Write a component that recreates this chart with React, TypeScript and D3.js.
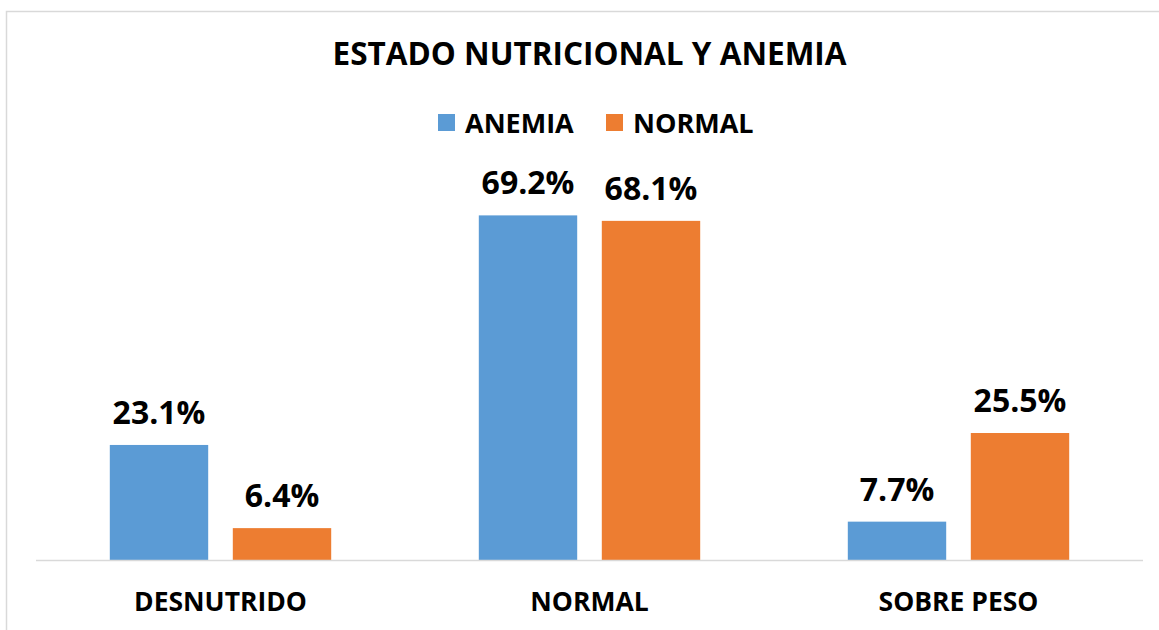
import React, { useRef, useEffect } from 'react';
import * as d3 from 'd3';

const categories = ['DESNUTRIDO', 'NORMAL', 'SOBRE PESO'];
const seriesNames = ['ANEMIA', 'NORMAL'];
const anemia = [23.1, 69.2, 7.7];
const normal = [6.4, 68.1, 25.5];
const colors = ['#5b9bd5', '#ed7d31'];

const W = 1159;
const H = 630;
const FONT = '"Open Sans", sans-serif';

function App(): React.ReactElement {
  const ref = useRef<SVGSVGElement | null>(null);

  useEffect(() => {
    if (!ref.current) return;
    const svg = d3.select(ref.current);
    svg.selectAll('*').remove();

    const left = 36;
    const right = 1143;
    const baseY = 560;

    // chart frame (right and bottom edges fall outside the picture)
    svg.append('rect')
      .attr('x', 6.5).attr('y', 11.5)
      .attr('width', 1180).attr('height', 640)
      .attr('fill', '#fff')
      .attr('stroke', '#d9d9d9')
      .attr('stroke-width', 1.5);

    const x0 = d3.scaleBand<string>().domain(categories).range([left, right]);
    const bw = x0.bandwidth();
    const x1 = d3.scaleBand<string>()
      .domain(seriesNames)
      .range([bw * 0.2, bw * 0.8])
      .paddingInner(0.2);
    const y = d3.scaleLinear().domain([0, 80]).range([baseY, baseY - 80 * 4.98]);

    const rows = categories.map((c, i) => ({ cat: c, vals: [anemia[i], normal[i]] }));

    const groups = svg.append('g')
      .selectAll('g')
      .data(rows)
      .join('g')
      .attr('transform', d => `translate(${x0(d.cat)},0)`);

    groups.selectAll('rect')
      .data(d => d.vals.map((v, j) => ({ key: seriesNames[j], v, j })))
      .join('rect')
      .attr('x', d => x1(d.key)!)
      .attr('y', d => y(d.v))
      .attr('width', x1.bandwidth())
      .attr('height', d => baseY - y(d.v))
      .attr('fill', d => colors[d.j]);

    groups.selectAll('text')
      .data(d => d.vals.map((v, j) => ({ key: seriesNames[j], v, j })))
      .join('text')
      .attr('x', d => x1(d.key)! + x1.bandwidth() / 2)
      .attr('y', d => y(d.v) - 21)
      .attr('text-anchor', 'middle')
      .attr('font-family', FONT)
      .attr('font-weight', 700)
      .attr('font-size', 32)
      .attr('fill', '#000')
      .text(d => `${d.v.toFixed(1)}%`);

    // baseline
    svg.append('line')
      .attr('x1', left).attr('x2', right)
      .attr('y1', baseY + 0.5).attr('y2', baseY + 0.5)
      .attr('stroke', '#d9d9d9')
      .attr('stroke-width', 1.5);

    // category labels
    svg.append('g')
      .selectAll('text')
      .data(categories)
      .join('text')
      .attr('x', d => x0(d)! + bw / 2)
      .attr('y', 611)
      .attr('text-anchor', 'middle')
      .attr('font-family', FONT)
      .attr('font-weight', 700)
      .attr('font-size', 26.5)
      .attr('fill', '#000')
      .text(d => d);

    // title
    svg.append('text')
      .attr('x', (left + right) / 2)
      .attr('y', 65)
      .attr('text-anchor', 'middle')
      .attr('font-family', FONT)
      .attr('font-weight', 700)
      .attr('font-size', 31.5)
      .attr('fill', '#000')
      .text('ESTADO NUTRICIONAL Y ANEMIA');

    // legend
    const legendX = [438, 606];
    const legend = svg.append('g')
      .selectAll('g')
      .data(seriesNames)
      .join('g')
      .attr('transform', (_, i) => `translate(${legendX[i]},0)`);
    legend.append('rect')
      .attr('x', 0).attr('y', 114)
      .attr('width', 17).attr('height', 17)
      .attr('fill', (_, i) => colors[i]);
    legend.append('text')
      .attr('x', 27)
      .attr('y', 133)
      .attr('font-family', FONT)
      .attr('font-weight', 700)
      .attr('font-size', 27)
      .attr('fill', '#000')
      .text(d => d);
  }, []);

  return (
    <svg
      ref={ref}
      width={W}
      height={H}
      style={{ position: 'absolute', left: 0, top: 0, background: '#fff' }}
    />
  );
}

export default App;
